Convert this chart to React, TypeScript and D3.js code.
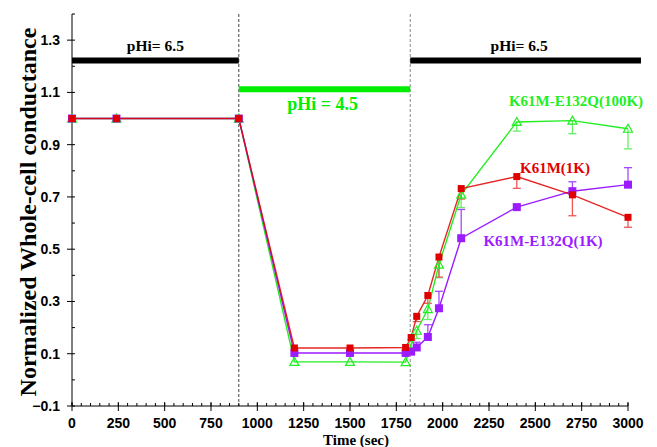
import React from 'react';
import * as d3 from 'd3';

// Time points (sec) shared by all three series
const times = [0, 240, 900, 1200, 1500, 1800, 1830, 1860, 1920, 1980, 2100, 2400, 2700, 3000];

// K61M(1K) - red, error bars drawn downward
const redValues = [1.0, 1.0, 1.0, 0.122, 0.122, 0.124, 0.162, 0.243, 0.323, 0.47, 0.732, 0.778, 0.708, 0.622];
const redErr = [0, 0, 0, 0, 0, 0, 0.01, 0.02, 0.03, 0.077, 0.04, 0.045, 0.08, 0.038];

// K61M-E132Q(100K) - green, error bars drawn downward
const greenValues = [1.0, 1.0, 1.0, 0.069, 0.069, 0.068, 0.137, 0.188, 0.271, 0.441, 0.709, 0.987, 0.992, 0.961];
const greenErr = [0, 0, 0, 0, 0, 0, 0.02, 0.03, 0.04, 0.05, 0.05, 0.035, 0.05, 0.077];

// K61M-E132Q(1K) - purple, error bars drawn upward
const purpleValues = [1.0, 1.0, 1.0, 0.103, 0.103, 0.103, 0.108, 0.124, 0.164, 0.274, 0.542, 0.661, 0.722, 0.747];
const purpleErr = [0, 0, 0, 0, 0, 0, 0.01, 0.02, 0.047, 0.065, 0.11, 0.01, 0.036, 0.065];

// pH phases: [start, end, level, label]
const phaseStarts = [0, 900, 1825];
const phaseEnds = [900, 1825, 3070];
const phaseLevels = [1.222, 1.112, 1.222];
const phaseLabels = ['pHi= 6.5', 'pHi = 4.5', 'pHi= 6.5'];

const switchTimes = [900, 1825];

const xMajor = d3.range(0, 3001, 250);
const xMinor = d3.range(0, 3001, 50);
const yMajor = [-0.1, 0.1, 0.3, 0.5, 0.7, 0.9, 1.1, 1.3];
const yMinor = d3.range(-0.1, 1.41, 0.1);

const RED = '#e00000';
const GREEN = '#22ee22';
const PURPLE = '#9b1cff';

export default function App() {
  const width = 657;
  const height = 447;

  const x = d3.scaleLinear().domain([0, 3000]).range([72, 628]);
  const y = d3.scaleLinear().domain([-0.1, 1.4]).range([406, 14]);

  const line = d3
    .line<number>()
    .x((d, i) => x(times[i]))
    .y(d => y(d));

  const serif = '"Liberation Serif", "Times New Roman", serif';
  const sans = '"Liberation Sans", Arial, sans-serif';

  const errBars = (vals: number[], errs: number[], dir: number, color: string) =>
    vals.map((v, i) => {
      if (!errs[i]) return null;
      const cx = x(times[i]);
      const y1 = y(v);
      const y2 = y(v + dir * errs[i]);
      return (
        <g key={i} stroke={color} strokeWidth={1.3}>
          <line x1={cx} x2={cx} y1={y1} y2={y2} />
          <line x1={cx - 4} x2={cx + 4} y1={y2} y2={y2} />
        </g>
      );
    });

  return (
    <svg width={width} height={height} style={{ position: 'absolute', left: 0, top: 0, background: '#fff' }}>
      {/* switch lines */}
      {switchTimes.map((t, i) => (
        <line
          key={t}
          x1={x(t)}
          x2={x(t)}
          y1={14}
          y2={406}
          stroke={i === 0 ? '#444' : '#888'}
          strokeWidth={1}
          strokeDasharray="3,2"
        />
      ))}

      {/* phase bars */}
      {phaseStarts.map((s, i) => (
        <g key={i}>
          <line
            x1={x(s)}
            x2={x(phaseEnds[i])}
            y1={y(phaseLevels[i])}
            y2={y(phaseLevels[i])}
            stroke={i === 1 ? '#00ee00' : '#000'}
            strokeWidth={6}
          />
          <text
            x={(x(s) + x(Math.min(phaseEnds[i], 3000))) / 2 + (i === 1 ? -2 : 0)}
            y={i === 1 ? 110 : 51}
            textAnchor="middle"
            fontFamily={serif}
            fontWeight="bold"
            fontSize={i === 1 ? 18 : 15.5}
            fill={i === 1 ? '#00ee00' : '#000'}
          >
            {phaseLabels[i]}
          </text>
        </g>
      ))}

      {/* axes */}
      <g stroke="#000" strokeWidth={1}>
        <line x1={72} x2={72} y1={14} y2={406} />
        <line x1={72} x2={628} y1={406} y2={406} />
        {xMinor.map(t => (
          <line key={'xm' + t} x1={x(t)} x2={x(t)} y1={406} y2={403} />
        ))}
        {xMajor.map(t => (
          <line key={'xM' + t} x1={x(t)} x2={x(t)} y1={402} y2={411} />
        ))}
        {yMinor.map(v => (
          <line key={'ym' + v} x1={72} x2={75} y1={y(v)} y2={y(v)} />
        ))}
        {yMajor.map(v => (
          <line key={'yM' + v} x1={67} x2={72} y1={y(v)} y2={y(v)} />
        ))}
      </g>
      {xMajor.map(t => (
        <text key={'xt' + t} x={x(t)} y={428} textAnchor="middle" fontFamily={sans} fontWeight="bold" fontSize={14}>
          {t}
        </text>
      ))}
      {yMajor.map(v => (
        <text key={'yt' + v} x={60} y={y(v) + 5} textAnchor="end" fontFamily={sans} fontWeight="bold" fontSize={14}>
          {d3.format('.1f')(v)}
        </text>
      ))}

      <text x={356} y={445} textAnchor="middle" fontFamily={serif} fontWeight="bold" fontSize={15}>
        Time (sec)
      </text>
      <text
        transform={`translate(36, 212) rotate(-90)`}
        textAnchor="middle"
        fontFamily={serif}
        fontWeight="bold"
        fontSize={24}
      >
        Normalized Whole-cell conductance
      </text>

      {/* error bars */}
      {errBars(greenValues, greenErr, -1, '#66ee66')}
      {errBars(redValues, redErr, -1, '#ee5555')}
      {errBars(purpleValues, purpleErr, 1, '#a847ff')}

      {/* series lines */}
      <path d={line(greenValues) || ''} fill="none" stroke={GREEN} strokeWidth={1.4} />
      <path d={line(purpleValues) || ''} fill="none" stroke={PURPLE} strokeWidth={1.4} />
      <path d={line(redValues) || ''} fill="none" stroke={RED} strokeWidth={1.4} strokeOpacity={0.85} />

      {/* markers */}
      {greenValues.map((v, i) => {
        const cx = x(times[i]);
        const cy = y(v);
        return (
          <path
            key={'g' + i}
            d={`M${cx},${cy - 4.5}L${cx + 4.5},${cy + 3.5}L${cx - 4.5},${cy + 3.5}Z`}
            fill="none"
            stroke={GREEN}
            strokeWidth={1.2}
          />
        );
      })}
      {purpleValues.map((v, i) => (
        <rect key={'p' + i} x={x(times[i]) - 4} y={y(v) - 4} width={8} height={8} fill={PURPLE} />
      ))}
      {redValues.map((v, i) => (
        <rect key={'r' + i} x={x(times[i]) - 3.5} y={y(v) - 3.5} width={7} height={7} fill={RED} />
      ))}

      {/* series labels */}
      <text x={576} y={106} textAnchor="middle" fontFamily={serif} fontWeight="bold" fontSize={15} fill={GREEN}>
        K61M-E132Q(100K)
      </text>
      <text x={555} y={173} textAnchor="middle" fontFamily={serif} fontWeight="bold" fontSize={15} fill={RED}>
        K61M(1K)
      </text>
      <text x={543} y={246} textAnchor="middle" fontFamily={serif} fontWeight="bold" fontSize={15} fill={PURPLE}>
        K61M-E132Q(1K)
      </text>
    </svg>
  );
}
